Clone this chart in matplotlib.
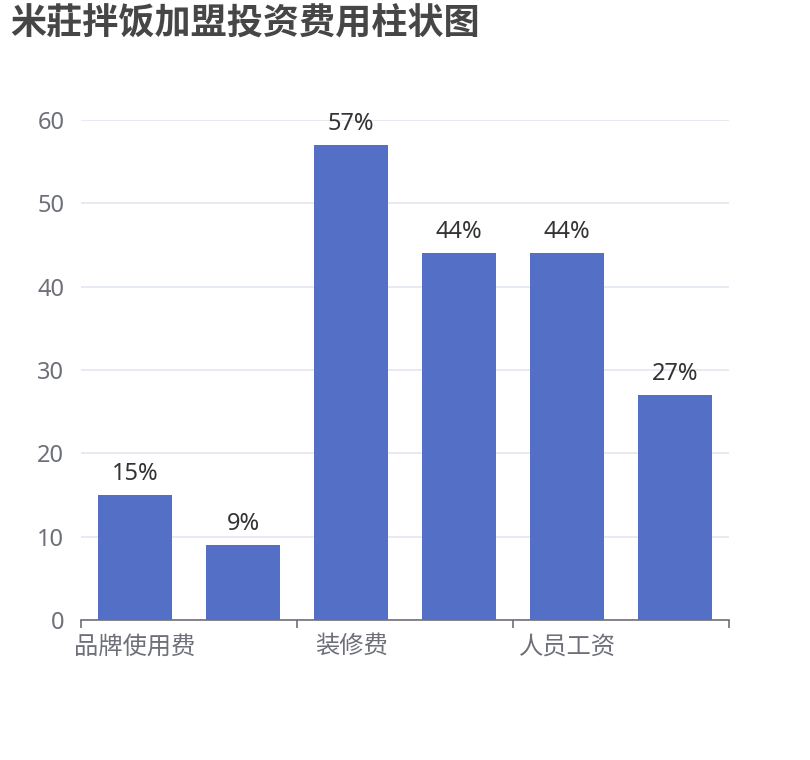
import numpy as np
import matplotlib.pyplot as plt

plt.rcParams['font.family'] = ['Noto Sans', 'Noto Sans CJK SC', 'DejaVu Sans']

title = '米莊拌饭加盟投资费用柱状图'
categories = ['品牌使用费', '加盟费', '装修费', '设备费', '人员工资', '房租']
values = [15, 9, 57, 44, 44, 27]
yticks = [0, 10, 20, 30, 40, 50, 60]

bar_color = '#5470c6'
axis_color = '#6e7079'
grid_color = '#e0e6f1'

fig = plt.figure(figsize=(8.1, 7.6), dpi=100)
ax = fig.add_axes([81/810, 1 - 620/760, 648/810, 500/760])

x = np.arange(len(categories))
ax.bar(x, values, width=0.69, color=bar_color, zorder=3)
for xi, v in zip(x, values):
    ax.text(xi, v + 1.1, f'{v}%', ha='center', va='bottom', fontsize=17, color='#333333')

ax.set_xlim(-0.5, len(categories) - 0.5)
ax.set_ylim(0, 60)
ax.set_yticks(yticks)
ax.set_yticklabels([str(t) for t in yticks])
ax.yaxis.grid(True, color=grid_color, linewidth=1.2, zorder=0)
ax.tick_params(axis='y', length=0, pad=12, labelsize=17, labelcolor=axis_color)

# ticks on category boundaries, labels on every other category
ax.set_xticks(np.arange(-0.5, len(categories), 2))
ax.set_xticklabels([])
ax.tick_params(axis='x', length=6, width=1.2, color=axis_color)
ax.set_xticks(x[::2], minor=True)
ax.set_xticklabels(categories[::2], minor=True)
ax.tick_params(axis='x', which='minor', length=0, pad=11, labelsize=17.5, labelcolor=axis_color)

for s in ['left', 'right', 'top']:
    ax.spines[s].set_visible(False)
ax.spines['bottom'].set_color(axis_color)
ax.spines['bottom'].set_linewidth(1.2)

fig.text(10/810, 1 - 26/760, title, fontsize=26, fontweight='bold', color='#464646',
         ha='left', va='center')

fig.savefig('out.png', dpi=100)
